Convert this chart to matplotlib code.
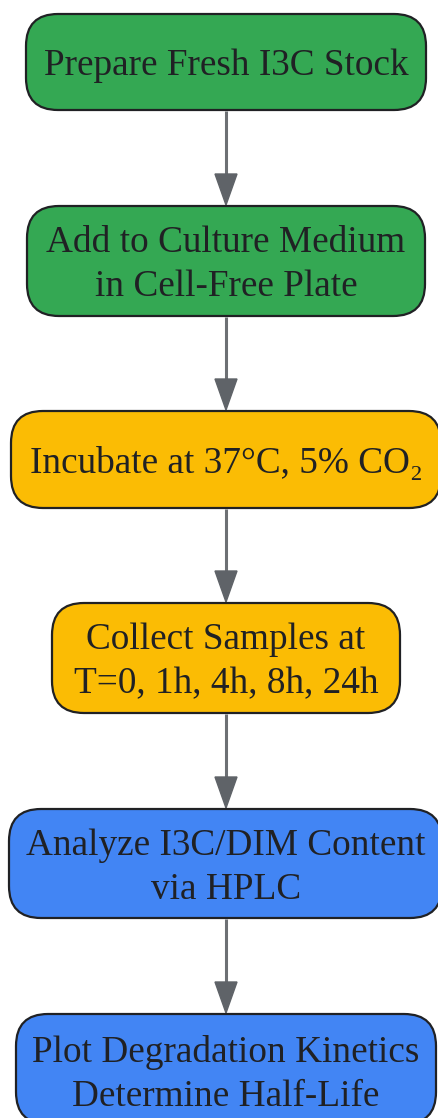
import matplotlib
matplotlib.use("Agg")
import matplotlib.pyplot as plt
from matplotlib.patches import FancyBboxPatch, Polygon

# ---- data ----
steps = [
    "Prepare Fresh I3C Stock",
    "Add to Culture Medium\nin Cell-Free Plate",
    "Incubate at 37°C, 5% CO₂",
    "Collect Samples at\nT=0, 1h, 4h, 8h, 24h",
    "Analyze I3C/DIM Content\nvia HPLC",
    "Plot Degradation Kinetics\nDetermine Half-Life",
]
step_colors = ["#34a853", "#34a853", "#fbbc04", "#fbbc04", "#4285f4", "#4285f4"]

# ---- layout (pixels) ----
W, H = 439, 1118
DPI = 100
boxes = [  # x0, x1, y0, y1
    (26, 426, 14, 110),
    (27, 425, 206, 316),
    (11, 441, 411, 508),
    (52, 400, 603, 713),
    (9, 442, 809, 918),
    (16, 436, 1014, 1124),
]
cx = 226
font_px = 37.2
line_px = 44

fig = plt.figure(figsize=(W / DPI, H / DPI), dpi=DPI)
ax = fig.add_axes([0, 0, 1, 1])
ax.set_xlim(0, W)
ax.set_ylim(H, 0)
ax.axis("off")

fonts = ["Liberation Serif", "DejaVu Serif"]

for (x0, x1, y0, y1), label, col in zip(boxes, steps, step_colors):
    p = FancyBboxPatch((x0, y0), x1 - x0, y1 - y0,
                       boxstyle="round,pad=0,rounding_size=32",
                       fc=col, ec="#202124", lw=1.6, zorder=2)
    ax.add_patch(p)
    lines = label.split("\n")
    n = len(lines)
    yc = (y0 + y1) / 2
    if y1 > H:
        yc = 1071
    for i, ln in enumerate(lines):
        yy = yc + (i - (n - 1) / 2) * line_px
        ax.text(cx, yy, ln, ha="center", va="center_baseline",
                fontsize=font_px * 72 / DPI, color="#202124",
                family=fonts, zorder=3)

# arrows
head_len, head_w = 31, 22
for (a, b) in zip(boxes[:-1], boxes[1:]):
    ys = a[3] + 1
    ye = b[2] - 1
    ax.plot([cx, cx], [ys, ye - head_len + 2], color="#6d7074", lw=2.2,
            solid_capstyle="butt", zorder=1)
    ax.add_patch(Polygon([(cx - head_w / 2, ye - head_len), (cx + head_w / 2, ye - head_len), (cx, ye)],
                         closed=True, fc="#5f6368", ec="#5f6368", lw=1, zorder=1))

fig.savefig("out.png", dpi=DPI, facecolor="white")
